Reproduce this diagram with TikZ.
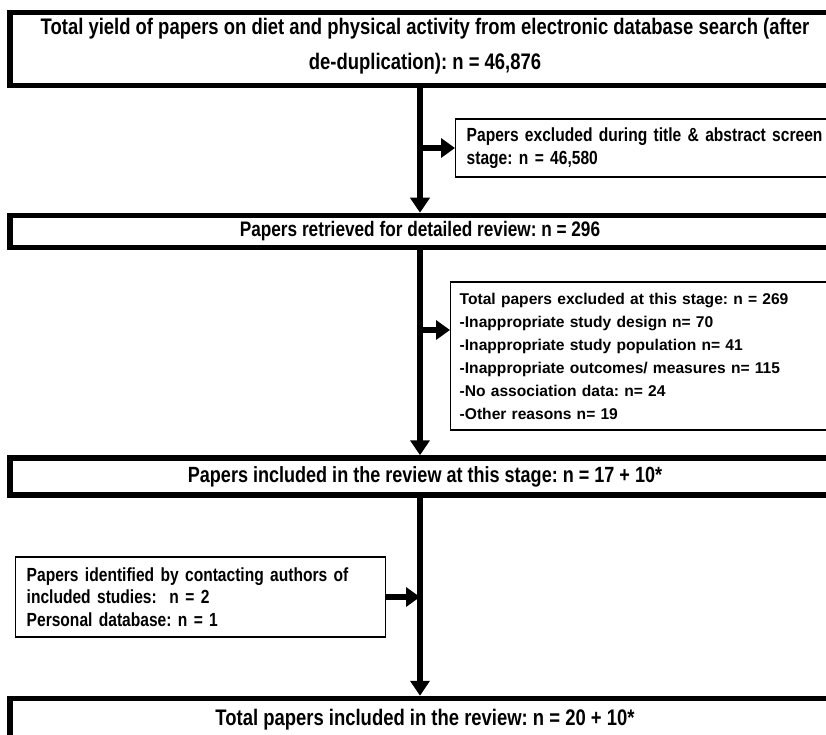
\documentclass[tikz,border=0pt]{standalone}
\usepackage{fontspec}
\setmainfont{Liberation Sans}
\newfontfamily\narrowfont[FakeStretch=0.82]{Liberation Sans}
\usetikzlibrary{arrows.meta}
\tikzset{
  mainbox/.style={draw, line width=5.5pt, minimum width=830pt, inner sep=0pt, align=center,
    font=\frenchspacing\narrowfont\bfseries\fontsize{22}{35}\selectfont},
  maintext/.style={inner sep=0pt, align=center,
    font=\frenchspacing\narrowfont\bfseries\fontsize{22.5}{35}\selectfont},
  sidebox/.style={draw, line width=1.4pt, inner xsep=11pt, inner ysep=0pt, align=left, anchor=west,
    font=\frenchspacing\narrowfont\bfseries\fontsize{19}{22.5}\selectfont},
  sidewide/.style={draw, line width=1.4pt, inner xsep=9pt, inner ysep=0pt, align=left, anchor=west,
    font=\frenchspacing\bfseries\fontsize{15.6}{23}\selectfont},
  mainarr/.style={line width=5.5pt, -{Triangle[length=15pt,width=19pt]}},
  brancharr/.style={line width=5.5pt, -{Triangle[length=14pt,width=19pt]}}
}
\begin{document}
\begin{tikzpicture}[x=1pt,y=-1pt]
\useasboundingbox (0,0) rectangle (826,735);
\clip (0,0) rectangle (826,735);
\coordinate (sx) at (420,0);
\node[mainbox, minimum height=73pt] (b1) at (425,49) {};
\node[maintext] (t1) at (425,46.5)
  {Total yield of papers on diet and physical activity from electronic database search (after\\de-duplication): n = 46,876};
\node[sidebox, minimum height=58pt, text width=363pt] (s1) at (455,148)
  {Papers excluded during title \& abstract screen\\stage: n = 46,580};
\node[mainbox, minimum height=32pt, font=\frenchspacing\narrowfont\bfseries\fontsize{21}{35}\selectfont] (b2) at (425,231.5) {\hspace*{-10pt}Papers retrieved for detailed review: n = 296};
\node[sidewide, minimum height=148pt, text width=372pt] (s2) at (450,356)
  {Total papers excluded at this stage: n = 269\\
   -Inappropriate study design n= 70\\
   -Inappropriate study population n= 41\\
   -Inappropriate outcomes/ measures n= 115\\
   -No association data: n= 24\\
   -Other reasons n= 19};
\coordinate (y2) at (0,330);
\node[mainbox, minimum height=37pt] (b3) at (425,476.5) {Papers included in the review at this stage: n = 17 + 10*};
\node[sidebox, minimum height=80pt, text width=348pt] (s3) at (15,597)
  {Papers identified by contacting authors of\\included studies:\ \ n = 2\\Personal database: n = 1};
\node[mainbox, minimum height=42pt, font=\frenchspacing\narrowfont\bfseries\fontsize{22.5}{35}\selectfont] (b4) at (425,719.5) {Total papers included in the review: n = 20 + 10*};
\draw[mainarr] (b1.south -| sx) -- (b2.north -| sx);
\draw[brancharr] (s1.west -| sx) -- (s1.west);
\draw[mainarr] (b2.south -| sx) -- (b3.north -| sx);
\draw[brancharr] (sx |- y2) -- (s2.west |- y2);
\draw[mainarr] (b3.south -| sx) -- (b4.north -| sx);
\draw[brancharr] (s3.east) -- (s3.east -| sx);
\end{tikzpicture}
\end{document}
